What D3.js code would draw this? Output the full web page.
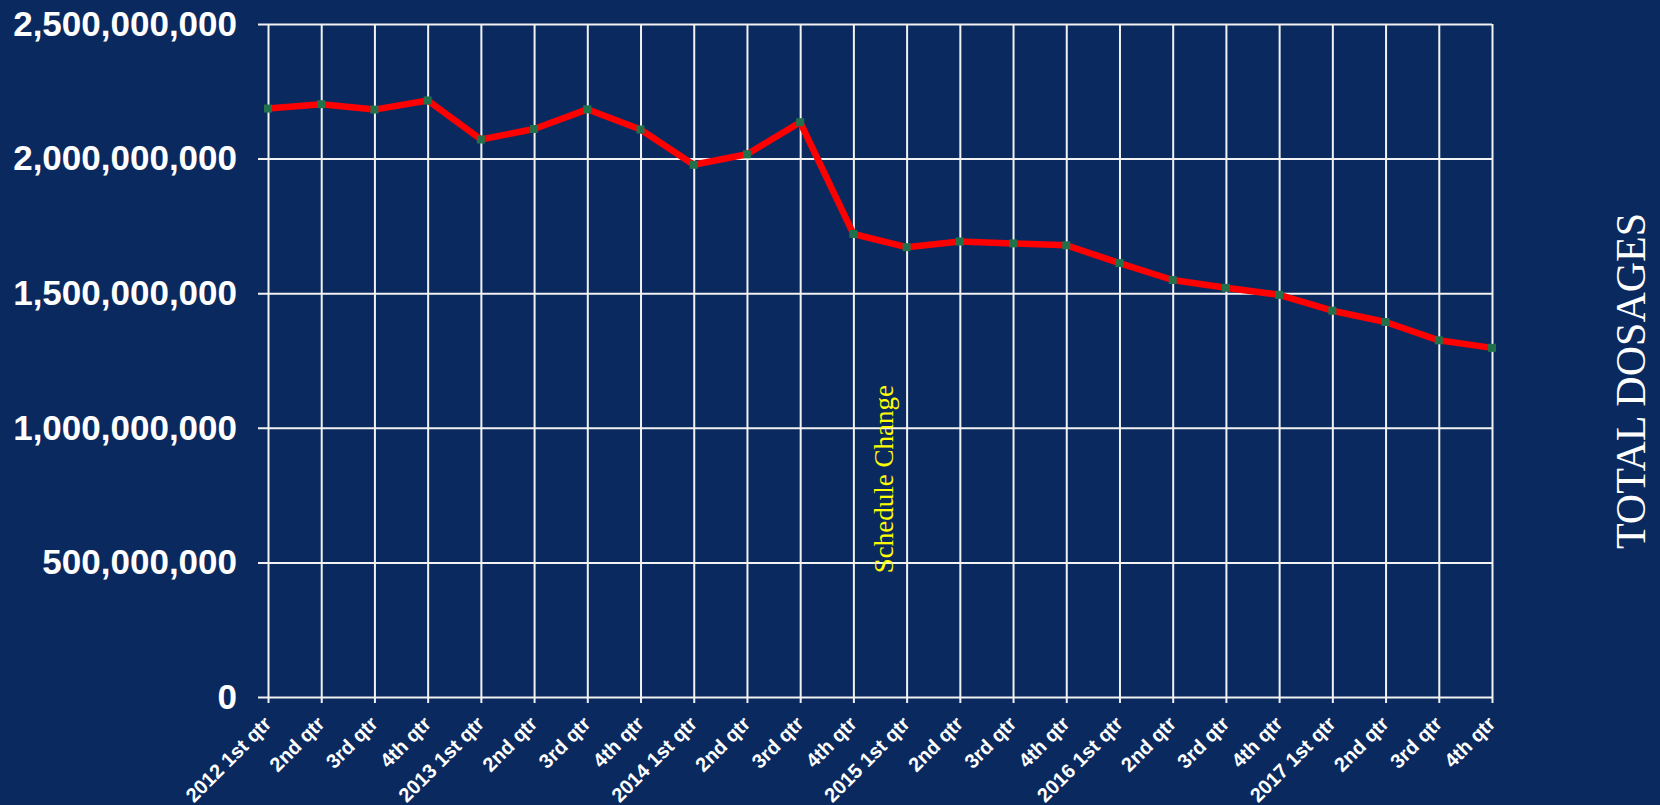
<html>
  <head>
    <meta charset="UTF-8">
    <script src="https://unpkg.com/d3@7/dist/d3.min.js"></script>
    <title>Total Dosages</title>
    <style>
      body { margin: 0; background: #0a2a5f; }
    </style>
  </head>
  <body>
	<script type="text/javascript">

      // quarters along the bottom
      var quarterLabels = ["2012 1st qtr", "2nd qtr", "3rd qtr", "4th qtr",
                           "2013 1st qtr", "2nd qtr", "3rd qtr", "4th qtr",
                           "2014 1st qtr", "2nd qtr", "3rd qtr", "4th qtr",
                           "2015 1st qtr", "2nd qtr", "3rd qtr", "4th qtr",
                           "2016 1st qtr", "2nd qtr", "3rd qtr", "4th qtr",
                           "2017 1st qtr", "2nd qtr", "3rd qtr", "4th qtr"];

      // total dosages per quarter
      var dosages = [2186e6, 2202e6, 2182e6, 2216e6,
                     2071e6, 2110e6, 2183e6, 2108e6,
                     1977e6, 2016e6, 2135e6, 1720e6,
                     1671e6, 1692e6, 1685e6, 1678e6,
                     1612e6, 1549e6, 1520e6, 1494e6,
                     1435e6, 1393e6, 1325e6, 1297e6];

      var yTicks = [0, 500e6, 1000e6, 1500e6, 2000e6, 2500e6];

      // annotation sits between 2014 4th qtr and 2015 1st qtr
      var noteText = "Schedule Change";
      var noteIndex = 11;
      var noteValue = 460e6;

      var width = 1660;
      var height = 805;
      // plot box (note: "top" is taken by window.top, so prefix these)
      var plotLeft = 268, plotRight = 1492, plotTop = 24, plotBottom = 697;

      var svg = d3.select('body')
                  .append('svg')
                  .attr('width', width)
                  .attr('height', height);

      svg.append('rect')
          .attr('width', width)
          .attr('height', height)
          .attr('fill', '#0a2a5f');

      var x = d3.scalePoint()
          .domain(d3.range(dosages.length))
          .range([plotLeft, plotRight]);

      var y = d3.scaleLinear()
          .domain([0, 2500e6])
          .range([plotBottom, plotTop]);

      // horizontal grid + y labels
      var yAxis = svg.append('g')
          .attr('transform', 'translate(' + plotLeft + ',0)')
          .call(d3.axisLeft(y)
                  .tickValues(yTicks)
                  .tickSize(10)
                  .tickPadding(21)
                  .tickFormat(d3.format(',')));
      yAxis.select('.domain').remove();
      yAxis.selectAll('.tick line')
          .attr('x2', plotRight - plotLeft)
          .attr('x1', -10)
          .style('stroke', '#f2f2f2')
          .style('stroke-width', 2);
      yAxis.selectAll('.tick text')
          .style('fill', 'white')
          .style('font-family', '"Liberation Sans", Arial, sans-serif')
          .style('font-weight', 'bold')
          .style('font-size', '35px');

      // vertical grid + x labels
      var xAxis = svg.append('g')
          .attr('transform', 'translate(0,' + plotBottom + ')')
          .call(d3.axisBottom(x)
                  .tickSize(6)
                  .tickFormat(function(i){ return quarterLabels[i]; }));
      xAxis.select('.domain').remove();
      xAxis.selectAll('.tick line')
          .attr('y1', plotTop - plotBottom)
          .attr('y2', 6)
          .style('stroke', '#f2f2f2')
          .style('stroke-width', 2);
      xAxis.selectAll('.tick text')
          .attr('text-anchor', 'end')
          .attr('transform', 'translate(4,28) rotate(-45)')
          .attr('x', 0)
          .attr('y', 0)
          .attr('dy', 0)
          .style('fill', 'white')
          .style('font-family', '"Liberation Sans", Arial, sans-serif')
          .style('font-weight', 'bold')
          .style('font-size', '20px');

      // the series line
      var line = d3.line()
          .x(function(d, i){ return x(i); })
          .y(function(d){ return y(d); });

      svg.append('path')
          .datum(dosages)
          .attr('d', line)
          .style('fill', 'none')
          .style('stroke', '#ff0000')
          .style('stroke-width', 6.5)
          .style('stroke-linejoin', 'round');

      svg.selectAll('rect.marker')
          .data(dosages)
          .enter()
          .append('rect')
          .attr('class', 'marker')
          .attr('x', function(d, i){ return x(i) - 4; })
          .attr('y', function(d){ return y(d) - 4; })
          .attr('width', 8)
          .attr('height', 8)
          .style('fill', '#23714b');

      // annotation
      var nx = x(noteIndex) + x.step() * 0.74;
      svg.append('text')
          .attr('transform', 'translate(' + nx + ',' + y(noteValue) + ') rotate(-90)')
          .text(noteText)
          .style('fill', '#ffff00')
          .style('font-family', '"Liberation Serif", "Times New Roman", serif')
          .style('font-size', '27px');

      // right side title
      svg.append('text')
          .attr('transform', 'translate(1645,381) rotate(-90)')
          .attr('text-anchor', 'middle')
          .text('TOTAL DOSAGES')
          .style('fill', 'white')
          .style('font-family', '"Liberation Serif", "Times New Roman", serif')
          .style('font-size', '42px');

	</script>
  </body>
</html>
